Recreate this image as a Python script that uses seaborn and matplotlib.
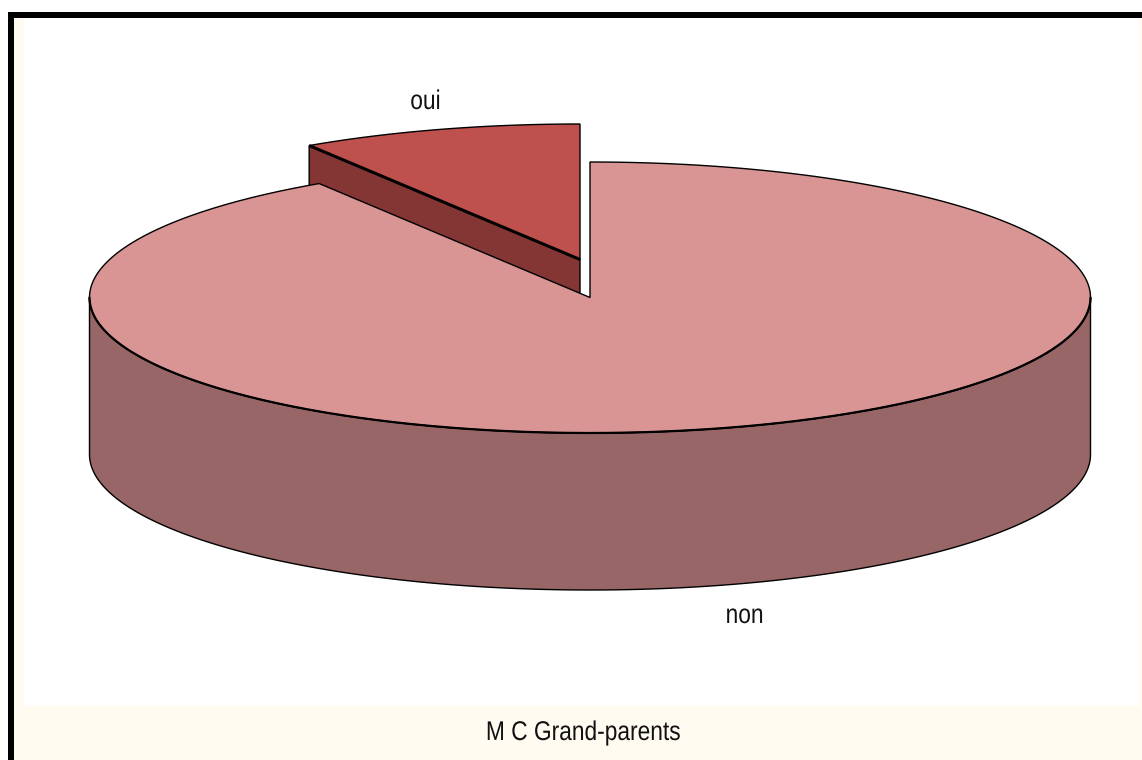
import numpy as np
import matplotlib
matplotlib.use("Agg")
import matplotlib.pyplot as plt
from matplotlib.patches import Polygon, Rectangle
from matplotlib.patheffects import AbstractPathEffect
from matplotlib.transforms import Affine2D
import seaborn as sns

# Survey shares, in percent
categories = ["oui", "non"]
shares = [9.1, 90.9]
chart_title = "M C Grand-parents"

sns.set_theme(style="white")
plt.rcParams["font.family"] = ["Liberation Sans", "DejaVu Sans"]

top_colors = dict(zip(categories, sns.color_palette(["#BE504D", "#D99594"])))
side_colors = dict(zip(categories, sns.color_palette(["#843634", "#986666"])))
cream = "#FFFBF0"

# Pie geometry in pixel units
cx, cy, rx, ry = 590.0, 297.5, 500.5, 135.5
depth = 157.0
explode_dx, explode_dy = -10.0, -38.0


class Condensed(AbstractPathEffect):
    """Narrows glyph outlines horizontally about a fixed display x."""

    def __init__(self, anchor_x, factor):
        super().__init__()
        self.squeeze = Affine2D().translate(-anchor_x, 0).scale(factor, 1).translate(anchor_x, 0)

    def draw_path(self, renderer, gc, tpath, affine, rgbFace=None):
        renderer.draw_path(gc, tpath, affine + self.squeeze, rgbFace)


def rim(start, stop, dx=0.0, dy=0.0, n=240):
    """Points on the elliptical rim; angles run clockwise from twelve o'clock."""
    t = np.radians(np.linspace(start, stop, n))
    return np.column_stack([cx + dx + rx * np.sin(t), cy + dy - ry * np.cos(t)])


fig = plt.figure(figsize=(11.42, 7.6), dpi=100, facecolor="white")
ax = fig.add_axes([0, 0, 1, 1])
ax.set_xlim(0, 1142)
ax.set_ylim(760, 0)
ax.axis("off")

# Panel: cream ground, white plot area, heavy black top and left rules
ax.add_patch(Rectangle((14, 18), 1128, 742, fc=cream, ec="none", zorder=0))
ax.add_patch(Rectangle((24, 18), 1115, 688, fc="white", ec="none", zorder=1))
ax.add_patch(Rectangle((8, 12), 1134, 6, fc="black", ec="none", zorder=2))
ax.add_patch(Rectangle((8, 12), 6, 748, fc="black", ec="none", zorder=2))

# Sweep of each slice, starting at twelve o'clock with "non" going clockwise
sweep_non = 360.0 * shares[1] / sum(shares)
apex = np.array([cx, cy])
offset = np.array([explode_dx, explode_dy])

# Exploded slice: its cut wall sits behind the main disc
oui_arc = rim(sweep_non, 360.0, explode_dx, explode_dy)
corner = oui_arc[0]
oui_apex = apex + offset
ax.add_patch(Polygon([corner, oui_apex, oui_apex + [0, depth], corner + [0, depth]],
                     fc=side_colors["oui"], ec="black", lw=1.0, zorder=3))
ax.add_patch(Polygon(np.vstack([oui_arc, oui_apex]),
                     fc=top_colors["oui"], ec="black", lw=1.0, zorder=4))
ax.plot(*np.column_stack([corner, oui_apex]), color="black", lw=2.2, zorder=5,
        solid_capstyle="butt")

# Main slice: front wall, then top face
front = rim(90.0, 270.0)
ax.add_patch(Polygon(np.vstack([front, front[::-1] + [0, depth]]),
                     fc=side_colors["non"], ec="black", lw=1.0, zorder=6))
ax.add_patch(Polygon(np.vstack([rim(0.0, sweep_non, n=720), apex]),
                     fc=top_colors["non"], ec="black", lw=1.0, zorder=7))
ax.plot(front[:, 0], front[:, 1], color="black", lw=1.6, zorder=8)


def label(x, y, text):
    """Centred condensed caption at a pixel position."""
    ax.text(x, y, text, fontsize=19.5, color="#111111", ha="center", va="center", zorder=9,
            path_effects=[Condensed(x, 0.84)])


label(425.5, 102, categories[0])
label(744.5, 616, categories[1])
label(583.5, 733, chart_title)

fig.savefig("out.png", dpi=100, facecolor=fig.get_facecolor())
